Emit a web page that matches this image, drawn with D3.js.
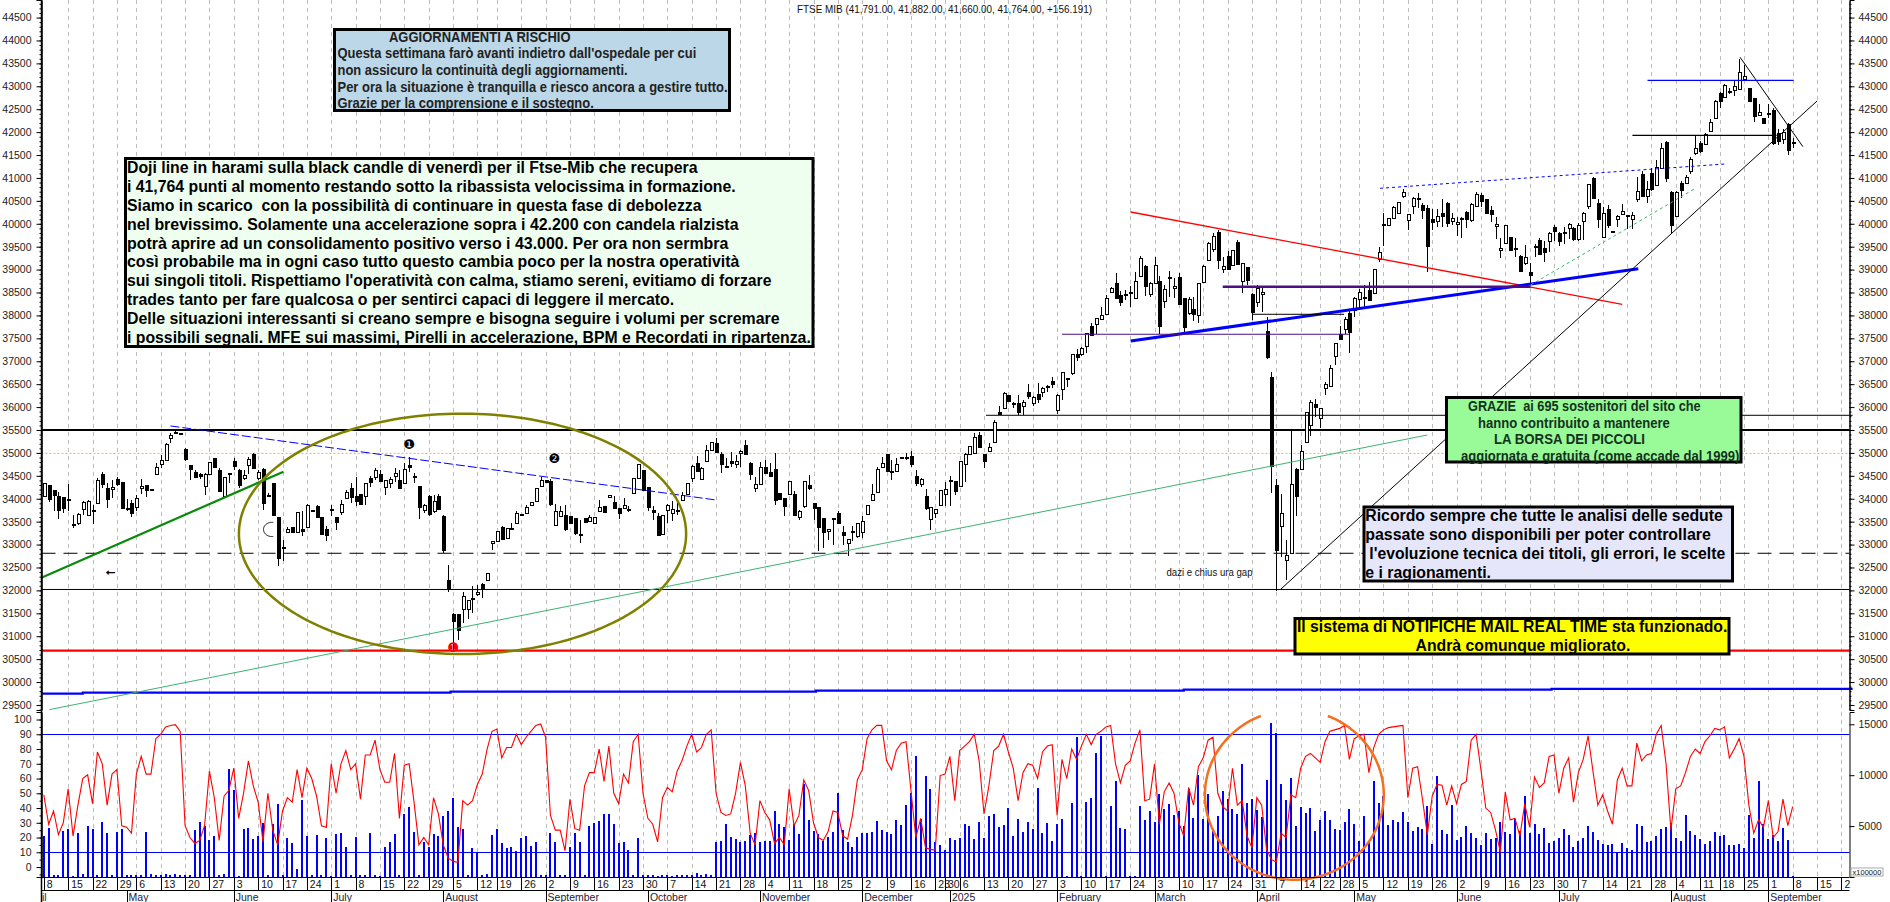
<!DOCTYPE html>
<html>
<head>
<meta charset="utf-8">
<style>
  html, body { margin: 0; padding: 0; background: #fff; overflow: hidden; }
  text { font-family: 'Liberation Sans', Arial, sans-serif; fill: #111; }
  .axis text { font-size: 10.5px; fill: #222; }
</style>
</head>
<body>
<div id="chart"></div>
<script src="https://cdn.jsdelivr.net/npm/d3@7"></script>
<script>
// candles, one line = 10 sessions, starting 8 April 2024
var opens = [
34050,34296,34195,34050,34035,33990,33441,33455,33774,33644,
33755,33905,34535,34231,34231,34427,34369,33790,33905,33818,
34231,34296,34209,34535,34753,34840,35333,35434,35427,35079,
34738,34594,34550,34282,34528,34883,34630,34050,34557,34818,
34630,34470,34724,34985,34448,34644,34064,34340,33600,32940,
33274,33382,33267,33339,33397,33752,33846,33600,33339,33775,
33607,33709,34014,34231,34064,34100,34064,34448,34470,34543,
34253,34354,34499,34412,34340,34731,34477,34282,33745,34064,
33745,34064,33629,32237,31490,31476,31585,31585,31839,31911,
32129,32223,33035,33078,33390,33143,33355,33470,33658,33687,
33861,33941,34289,34405,34390,33419,33615,33637,33615,33578,
33230,33578,33506,33470,33723,33846,34043,33919,33796,33781,
33775,34122,34449,34630,34253,33752,33615,33230,33760,33687,
33755,33977,34107,34470,34782,34449,34818,35050,35210,34978,
34717,34818,34753,34992,35173,34789,34224,34340,34695,34594,
34644,34122,34014,34107,34100,33615,33854,34289,33897,33818,
33571,33288,33565,33687,33274,33035,33289,33180,33274,33658,
33977,34144,34680,34970,34610,34593,34905,34915,34934,34499,
34340,34064,33557,33687,33854,34100,34412,34390,34282,34753,
34970,34992,35384,34978,35043,35246,35898,35971,36258,36075,
36090,36020,36332,36100,36288,36317,36465,36571,35930,36390,
36625,36739,37160,37153,37335,37771,37807,37916,38025,38505,
38709,38440,38469,38500,38374,38869,39080,38462,38702,38752,
38302,38825,38592,38840,38374,38047,38142,37996,38723,39210,
39465,39821,39007,39298,39109,39596,38745,39058,38469,38287,
38454,37661,36665,34303,33394,32652,32812,34652,34652,35226,
35597,36069,35757,36411,36447,37102,37596,37698,38061,38120,
38352,38395,38556,38498,39233,39985,39960,40134,40229,40592,
40069,40389,40571,40410,40345,40098,40069,40236,40454,40047,
39989,40115,40251,40083,40374,40629,40542,40294,39938,39436,
39589,39705,39460,39298,39138,38942,39516,39647,39473,39611,
39931,39793,39822,39902,39902,39662,40054,40374,40999,40461,
39698,40316,39836,40098,40226,40182,40100,40538,41081,40610,
41103,40850,41205,41792,40683,40175,40900,40900,41154,41538,
41756,41734,42024,42299,42843,42785,42905,42930,42945,43170,
42952,42749,42372,42300,42420,42480,41973,41857,42169,41791];

var closes = [
34340,33992,34093,33745,33796,33992,33419,33658,33919,33948,
33760,34405,34310,33992,34267,34325,33796,33796,33687,34014,
34274,34195,34188,34688,34840,35188,35398,35449,35420,34862,
34644,34485,34499,34535,34796,34680,34173,34470,34535,34702,
34303,34528,34862,34680,34579,33905,34086,33651,32708,32947,
33346,33267,33709,33303,33868,33738,33600,33230,33209,33781,
33506,33883,34144,34028,33955,33883,34340,34354,34622,34398,
34412,34434,34557,34238,34644,34680,34506,33817,33861,33673,
33955,33774,32890,32035,31331,31135,31875,31788,31810,31962,
32035,32382,33078,33296,33122,33361,33361,33687,33637,33818,
33919,34224,34412,34354,33883,33723,33730,33325,33470,33252,
33209,33491,33600,33600,33810,33723,34079,33796,33687,33854,
33780,34449,34760,34195,33818,33709,33194,33651,33861,33774,
33760,34086,34340,34724,34615,34680,35065,35231,35014,34760,
34702,34775,34825,35036,34978,34543,34318,34702,34572,34506,
33977,34000,33847,34390,33637,33738,34390,34216,33789,33375,
33267,33339,33571,33462,33201,33122,33267,33470,33513,33861,
34107,34651,34775,34593,34615,34753,34883,34920,34753,34354,
34441,33796,33810,33774,34180,34216,34390,34180,34818,34970,
35144,35340,35115,34833,35137,35681,35848,36302,36120,36080,
35900,36100,36244,36230,36186,36412,36470,36513,36266,36760,
36630,37153,37102,37284,37611,37567,37938,38004,38374,38592,
38389,38280,38440,38505,38752,39261,38651,38702,39101,37778,
38571,38832,38636,38258,37735,38353,38040,38702,39080,39574,
39741,39210,39080,39014,39429,39109,39138,38774,38084,38592,
38505,37102,34717,32885,33685,32769,34324,34063,35037,35888,
36106,36011,35975,36498,36847,37392,37494,37916,37647,38374,
38505,38400,38338,39014,39393,39989,40120,40374,40469,40687,
40207,40571,40549,40302,39517,40025,40171,40178,40025,40120,
40033,40120,40105,40425,40643,40505,40243,40214,39989,39480,
39974,39415,39466,38978,39269,38869,39487,39342,39393,39793,
39836,39611,39793,39989,39662,39967,40229,40861,40563,40113,
40229,39960,39815,40171,40284,40160,40190,40705,40610,40755,
40755,41248,41647,41009,39972,40697,40755,41031,41408,41647,
41589,41951,42220,42676,42662,43039,42908,43017,43315,43235,
42662,42350,42445,42191,42423,41749,41792,42010,41611,41764];

var highs = [
34345,34300,34200,34137,34040,34318,33651,33687,33941,33963,
33868,34448,34594,34340,34412,34470,34375,33999,33977,34071,
34427,34300,34215,34775,34956,35210,35427,35485,35435,35101,
34745,34630,34572,34557,34800,34890,34666,34475,34572,34883,
34652,34630,34905,35007,34630,34666,34122,34345,33610,33107,
33375,33390,33715,33723,33875,33758,33861,33605,33412,33868,
33610,33977,34180,34340,34470,34105,34345,34499,34666,34630,
34415,34485,34666,34630,34775,34905,34557,34285,33890,34086,
34086,34100,33635,32564,31500,31480,31962,31795,32092,32107,
32165,32385,33085,33300,33395,33365,33470,33723,33665,33868,
33925,34230,34470,34410,34427,33890,33846,33868,33620,33585,
33542,33585,33651,33605,33977,33850,34085,34050,33800,34014,
33850,34455,34765,34635,34258,33832,33687,33655,33890,33941,
33977,34137,34345,34730,34934,34685,35173,35235,35318,35028,
34883,35028,34956,35065,35282,34811,34485,34811,34847,34775,
34992,34125,34020,34395,34158,33745,34395,34521,33900,33825,
33575,33345,33580,33723,33412,33130,33397,33475,33629,33865,
34318,34702,34920,34975,34847,34883,34910,35007,35043,34630,
34445,34216,33815,33780,34185,34376,34499,34395,34825,35007,
35150,35427,35464,34985,35224,35717,36022,36332,36270,36116,
36266,36150,36506,36244,36521,36440,36484,36666,36290,36770,
36640,37160,37262,37320,37625,37829,37950,38178,38447,38629,
38920,38534,38556,38643,38956,39298,39090,38738,39283,38862,
38665,38978,38811,38934,38390,38396,38396,38710,39101,39596,
39792,39865,39283,39414,39435,39647,39145,39060,38480,38665,
38592,37960,36775,34426,34099,33089,35502,34660,35175,35902,
36157,36171,35985,36556,36920,37400,37778,37960,38120,38396,
38570,38665,38737,39020,39502,40243,40130,40380,40480,40752,
40215,40580,40665,40447,40418,40316,40316,40534,40483,40225,
40156,40140,40280,40447,40701,40665,40550,40389,40156,39684,
39980,39710,39684,39320,39538,39138,39560,39684,39630,39810,
39974,39825,39938,40010,39925,40010,40265,40870,41029,40534,
40370,40410,39840,40190,40429,40190,40248,41023,41150,40940,
41226,41386,41770,41800,40705,40720,40936,41067,41460,41930,
41800,41975,42278,42700,42880,43050,42966,43110,43605,43474,
42960,42755,42619,42305,42604,42531,42060,42060,42205,41882];

var lows = [
34045,33919,33723,33557,33687,33723,33354,33433,33651,33629,
33455,33890,34231,33796,34014,34282,33781,33723,33600,33723,
34107,34035,34185,34530,34680,34833,35210,35405,35410,34833,
34412,34448,34441,34086,34520,34675,34137,34045,34340,34630,
34231,34412,34543,34666,34412,33760,34036,33615,32527,32636,
33252,33252,33260,33180,33390,33730,33595,33225,33071,33615,
33310,33651,33992,33905,33846,33868,33868,34267,34412,34376,
34071,34231,34376,34224,34325,34594,34340,33557,33687,33615,
33687,33760,32817,31962,30700,30918,31295,31367,31512,31875,
31839,32201,32875,33070,33115,33135,33310,33455,33630,33673,
33855,33935,34285,34350,33832,33415,33600,33288,33465,33216,
33035,33485,33484,33465,33715,33720,34040,33790,33557,33775,
33700,34115,34445,34158,33723,33542,33180,33225,33470,33506,
33651,33970,34100,34376,34610,34445,34815,35045,34992,34557,
34666,34702,34680,34702,34956,34412,34137,34335,34570,34500,
33868,33995,33629,34086,33615,33528,33796,34180,33542,32853,
32926,33107,32998,33455,32998,32745,33071,33143,33143,33650,
33970,34140,34675,34590,34412,34590,34880,34847,34702,34282,
34253,33760,33310,33578,33850,33832,33832,34086,34275,34376,
34965,34985,35110,34666,35040,35210,35845,35970,36100,35971,
35826,35825,36180,36020,36090,36215,36339,36412,35840,36157,
36448,36690,37015,37124,37175,37560,37597,37902,38020,38483,
38380,38215,38338,38193,38370,38860,38433,38396,38700,37597,
38156,38396,38374,38250,37626,38011,37887,37829,38720,39196,
39392,39007,38920,39010,39101,39100,38483,38665,37902,38193,
38083,37051,34136,31976,32718,32231,32810,33627,34640,35220,
35379,35793,35539,36266,36440,36920,37490,37596,37189,37960,
38156,38192,38330,38490,39175,39516,39955,40130,40225,40556,
39865,40207,40338,40105,38942,39865,39938,39938,39938,39974,
39734,39684,39916,40047,40370,40360,40240,40047,39662,39262,
39585,39400,39269,38970,39102,38688,39269,39335,39175,39393,
39633,39516,39560,39662,39625,39630,39647,40316,40555,39902,
39690,39900,39810,39938,40220,39885,39885,40465,40600,40451,
40705,40840,41200,40922,39777,40170,40560,40880,41081,41495,
41553,41730,42015,42290,42517,42780,42836,42785,42940,43148,
42650,42227,42360,42185,42300,41720,41720,41735,41502,41660];

// oscillator, red line
var oscillator = [
49,29,38,22,30,53,21,42,60,62.5,
43,78,70,42,63,66,28,27,23,63,
75,63,63,87,90,95,96,96.5,92,28,
20,16,18,28,65,47,18,48,52,67,
33,50,72,55,44,17,50,25,15,38,
47,44,66,47,67,60,48,28,27,70,
50,70,79,66,70,46,76,76,86,66,
57.5,57.5,77,33,69,70,44,15,20,15,
47,36,15,6,4,3,45,42,45,56,
63,80,92,93.5,74,81,81,90,83,88,
92,96,97,88,35,25,25,11,46,26,
25,55,64,64,80,58,82,50,43,63,
57,85,90,50,33,29,17,47,54,51,
65,72,82,90,78,81,90,93,50,37,
35,36,50,71,55,23,15,45,37,32,
16,20,15,53,28,35,59,52,30,20,
18,24,38,37,21,19,35,59,66,87,
93,96,96,72,66,79,84,85,52,20,
33,13,12,11.5,62,63,75,45,79,82,
85,90,72,36,55,79,82,90,78,67,
45,64,70,69,60,78,82,83,35,73,
60,80,73,82,90,83,90,92,95,96,
70,57,69,72,84,93,45,46,70,29,
51,57,50,30,21,54,42,68,74,86,
88,50,41,38,67,42,45,21,13,47,
42,12,5,3.5,23,20,49,47,67,75,
77,74,71,85,92,93,94,96,73,87,
89,90,64,81,90,93,94.5,95,95.5,96,
47,67,68,46,22,48,56,55.5,42,55,
43,56,58,86,90,66,40,37,25,10,
51,32,33,21,43,27,61,54,57,75,
76,50,67,74,44,64,73,89,65,42,
49,38,29,59,67,55,55,84,72,76,
77,90,96,70,25,53,55,64,75,80,
77,85,89,94,93,95,74,80,87,75,
42,23,32,27,45,20,24,46,28,41];

// volume, blue bars
var volumes = [
4060,4850,165,165,4490,4720,130,4320,300,5050,
4720,200,5445,4320,165,4420,4720,165,165,165,
165,4420,260,200,165,260,200,260,200,165,
165,4620,5410,4980,3600,4030,165,300,10590,8510,
130,4750,4850,3730,4060,5280,165,5210,7190,165,
3860,3330,800,7520,3990,200,4160,165,3860,130,
4260,4320,2970,165,3890,165,200,4320,165,130,
2970,3430,4220,165,6200,6830,4420,165,3430,2970,
4260,4060,6000,6530,7790,4920,4720,165,2840,2480,
165,300,4090,4750,3330,2870,2970,2570,3860,3990,
3070,3465,165,165,4360,3465,165,165,2970,4360,
3465,165,5050,5310,5510,6140,6140,5250,3300,3465,
2670,165,3860,200,200,165,130,165,165,130,
165,165,165,165,400,230,300,200,3465,3560,
5250,3960,3730,3465,3560,4090,4360,3400,3560,3560,
6435,5210,4950,3630,5180,4220,9100,5640,4550,4220,
3500,3960,4390,8300,4620,3465,2970,3960,4360,4360,
4420,5510,4620,4420,4260,5610,5150,7030,8220,11880,
5710,9900,8680,3465,3135,2670,3830,3630,3860,5210,
5050,3760,5445,3830,6000,6140,4950,5115,6800,4060,
5710,4420,5410,4750,8710,4320,5350,3560,5250,5740,
100,7290,13800,100,7360,7790,12140,13860,100,7000,
9400,4850,4750,100,100,7000,5610,6500,5410,8180,
6700,7130,6070,6435,5050,8680,5800,10060,5740,8180,
4520,6000,8400,7690,6700,6140,11055,7230,7620,6630,
5870,9500,15150,14120,9100,7560,9770,4980,6900,6300,
6730,4550,5640,6470,5640,4750,4590,5410,6700,5210,
3530,5970,3500,9400,7230,7950,5150,5640,5445,6400,
5410,4520,4920,4750,7000,3270,9970,4620,4220,7060,
3660,3960,5020,4360,3830,3135,4320,3730,3860,5445,
4455,4220,5710,4550,7920,4360,5180,4220,4820,3330,
3500,3830,4750,4125,2940,3560,3860,5050,4420,3630,
3270,3135,3230,2440,3330,2870,2670,5250,5050,3465,
3560,4060,4750,4950,5350,3860,3560,6100,4520,4125,
3730,3230,3500,4455,4060,4160,3100,3100,3230,2840,
6070,3860,9400,5250,3760,4125,3560,4850,3660,100];

// tick labels, weekly row and monthly row (session number of each tick)
var weekIndex = [0,5,10,15,19,24,29,34,39,44,49,54,59,64,69,74,79,84,89,93,98,103,108,113,118,123,128,133,138,143,148,153,158,163,168,173,178,183,185,188,193,198,203,208,213,218,223,228,233,238,243,248,253,258,262,266,270,275,280,285,290,295,300,305,310,315,320,325,330,335,340,344,349,354,359,364,369];
var weekLabels = ['8','15','22','29','6','13','20','27','3','10','17','24','1','8','15','22','29','5','12','19','26','2','9','16','23','30','7','14','21','28','4','11','18','25','2','9','16','23','30','6','13','20','27','3','10','17','24','3','10','17','24','31','7','14','22','28','5','12','19','26','2','9','16','23','30','7','14','21','28','4','11','18','25','1','8','15','2'];
var monthIndex = [17,39,59,82,103,124,147,168,186,208,228,249,269,290,311,334,354];
var monthLabels = ['May','June','July','August','September','October','November','December','2025','February','March','April','May','June','July','August','September'];

var priceTicks = d3.range(29500, 45000, 500);
var oscTicks = d3.range(0, 101, 10);
var volumeTicks = [5000, 10000, 15000];

// drawn lines: [session, price] ends
var trendLines = [
  {p: [[-0.5, 32278], [49.2, 34591]], c: '#0a8a0a', w: 2.2},
  {p: [[26, 35588], [138, 33973]], c: '#0000ff', w: 1, d: '9,3'},
  {p: [[1.1, 29397], [284, 35391]], c: '#3cb371', w: 1},
  {p: [[223.1, 40257], [324, 38243]], c: '#ff0000', w: 1.3},
  {p: [[223.1, 37442], [327.3, 39020]], c: '#0000ff', w: 3},
  {p: [[242, 38627], [305.2, 38627]], c: '#4b0f82', w: 2.5},
  {p: [[209, 37589], [268, 37589]], c: '#4b0f82', w: 1},
  {p: [[248.2, 38025], [266.9, 38025]], c: '#000', w: 1},
  {p: [[193.4, 35821], [371.3, 35821]], c: '#000', w: 1},
  {p: [[253.85, 32020], [364, 42679]], c: '#000', w: 1},
  {p: [[348.2, 43633], [361.1, 41682]], c: '#000', w: 1},
  {p: [[329.2, 43131], [359.2, 43131]], c: '#0000ff', w: 1.2},
  {p: [[326.1, 41931], [355.7, 41931]], c: '#000', w: 1.2},
  {p: [[274.3, 40774], [345.2, 41305]], c: '#0000ff', w: 1, d: '3,3'},
  {p: [[305.2, 38664], [338.8, 40759]], c: '#3cb371', w: 1, d: '3,3'}
];

// slow blue average, steps
var stepSessions = [-0.5, 8, 83.5, 158.5, 234, 309.5, 371.3];
var stepPrices = [29747, 29768, 29790, 29812, 29834, 29849];

// full width levels
var levels = [
  {v: 35500, c: '#000', w: 2.2},
  {v: 34990, c: '#f4a460', w: 1, d: '2,2'},
  {v: 32810, c: '#000', w: 1, d: '14,8'},
  {v: 32020, c: '#000', w: 1},
  {v: 30685, c: '#ff0000', w: 2.2}
];

// text boxes, real text with the width it takes in the picture
var boxes = [
  {x0: 334.5, x1: 729.5, y0: 29.5, y1: 110.5, fill: '#bcd8e8', size: 14.5, weight: 'bold', color: '#222', lines: [
    ['AGGIORNAMENTI A RISCHIO', 389, 570.5, 37.3],
    ['Questa settimana farò avanti indietro dall\'ospedale per cui', 337.5, 696.3, 53.3],
    ['non assicuro la continuità degli aggiornamenti.', 337.5, 627.6, 69.7],
    ['Per ora la situazione è tranquilla e riesco ancora a gestire tutto.', 337.5, 727.6, 86.7],
    ['Grazie per la comprensione e il sostegno.', 337.5, 593.8, 102.7]]},
  {x0: 125.5, x1: 813, y0: 158.5, y1: 346.5, fill: '#efffef', size: 16, weight: 'bold', color: '#000', lines: [
    ['Doji line in harami sulla black candle di venerdì per il Ftse-Mib che recupera', 127, 697.5, 167.7],
    ['i 41,764 punti al momento restando sotto la ribassista velocissima in formazione.', 127, 735.7, 186.5],
    ['Siamo in scarico  con la possibilità di continuare in questa fase di debolezza', 127, 701.5, 205.5],
    ['nel brevissimo. Solamente una accelerazione sopra i 42.200 con candela rialzista', 127, 738.5, 224.5],
    ['potrà aprire ad un consolidamento positivo verso i 43.000. Per ora non sermbra', 127, 728.4, 243.5],
    ['così probabile ma in ogni caso tutto questo cambia poco per la nostra operatività', 127, 739.3, 261.5],
    ['sui singoli titoli. Rispettiamo l\'operatività con calma, stiamo sereni, evitiamo di forzare', 127, 771.4, 280.5],
    ['trades tanto per fare qualcosa o per sentirci capaci di leggere il mercato.', 127, 674.2, 299.5],
    ['Delle situazioni interessanti si creano sempre e bisogna seguire i volumi per scremare', 127, 779.5, 318.5],
    ['i possibili segnali. MFE sui massimi, Pirelli in accelerazione, BPM e Recordati in ripartenza.', 127, 810.8, 337.5]]},
  {x0: 1446.5, x1: 1741, y0: 397.5, y1: 462, fill: '#98fb98', size: 15, weight: 'bold', color: '#14321e', lines: [
    ['GRAZIE  ai 695 sostenitori del sito che', 1468, 1700.7, 405.7],
    ['hanno contribuito a mantenere', 1478, 1669.8, 422.3],
    ['LA BORSA DEI PICCOLI', 1494, 1645, 438.3],
    ['aggiornata e gratuita (come accade dal 1999)', 1461, 1739.3, 455.3]]},
  {x0: 1364, x1: 1732.5, y0: 507, y1: 581, fill: '#e6e6fa', size: 16, weight: 'bold', color: '#000', lines: [
    ['Ricordo sempre che tutte le analisi delle sedute', 1365.3, 1722.8, 515.7],
    ['passate sono disponibili per poter controllare', 1365.3, 1710.8, 534.7],
    ['l\'evoluzione tecnica dei titoli, gli errori, le scelte', 1369.3, 1725.2, 553.3],
    ['e i ragionamenti.', 1365.3, 1491, 572.7]]},
  {x0: 1295, x1: 1729, y0: 618.5, y1: 654, fill: '#ffff00', size: 16, weight: 'bold', color: '#000', lines: [
    ['Il sistema di NOTIFICHE MAIL REAL TIME sta funzionado.', 1297, 1727.3, 626.3],
    ['Andrà comunque migliorato.', 1415.5, 1630.4, 645.7]]}
];

// svg container
var chart_width = 1890;
var chart_height = 902;
var left_edge = 41.5;
var right_edge = 1849.5;
var panel_split = 711;
var panel_bottom = 877;
var week_row = 890;

var svg = d3.select('#chart')
  .append('svg')
  .attr('width', chart_width)
  .attr('height', chart_height)
  .style('display', 'block');

// scales
var x_scale = d3.scaleLinear().domain([0, 359]).range([43.8, 1792.7]);
var y_scale = d3.scaleLinear().domain([29390, 44883]).range([710, 0]);
var osc_scale = d3.scaleLinear().domain([-6.75, 105.1]).range([panel_bottom, 712]);
var vol_scale = d3.scaleLinear().domain([0, 16208]).range([panel_bottom, 712]);

var px = function(v) { return Math.round(v) + 0.5; };

// weekly grid
svg.append('g').selectAll('line')
  .data(weekIndex.slice(1))
  .enter()
  .append('line')
  .attr('x1', (d) => px(x_scale(d)))
  .attr('x2', (d) => px(x_scale(d)))
  .attr('y1', 0)
  .attr('y2', panel_bottom)
  .attr('stroke', '#bdbdbd')
  .attr('stroke-dasharray', '4,4');

// volume bars
svg.append('g').selectAll('rect')
  .data(volumes)
  .enter()
  .append('rect')
  .attr('x', (d, i) => Math.round(x_scale(i)) - 1)
  .attr('y', (d) => vol_scale(d))
  .attr('width', 2)
  .attr('height', (d) => panel_bottom - vol_scale(d))
  .attr('fill', '#0000ff')
  .attr('shape-rendering', 'crispEdges');

// oscillator bounds and line
svg.append('g').selectAll('line')
  .data([90, 10])
  .enter()
  .append('line')
  .attr('x1', left_edge)
  .attr('x2', right_edge)
  .attr('y1', (d) => px(osc_scale(d)))
  .attr('y2', (d) => px(osc_scale(d)))
  .attr('stroke', '#0000ff')
  .attr('stroke-width', 1);

svg.append('path')
  .datum(oscillator)
  .attr('fill', 'none')
  .attr('stroke', '#ff0000')
  .attr('stroke-width', 1.1)
  .attr('d', d3.line().x((d, i) => x_scale(i)).y((d) => osc_scale(d)));

// levels across the price panel
svg.append('g').selectAll('line')
  .data(levels)
  .enter()
  .append('line')
  .attr('x1', left_edge)
  .attr('x2', right_edge)
  .attr('y1', (d) => y_scale(d.v))
  .attr('y2', (d) => y_scale(d.v))
  .attr('stroke', (d) => d.c)
  .attr('stroke-width', (d) => d.w)
  .attr('stroke-dasharray', (d) => d.d || null);

// blue step line
var step_line = [];
stepPrices.forEach(function(p, i) {
  step_line.push([stepSessions[i], p]);
  step_line.push([stepSessions[i + 1], p]);
});
svg.append('path')
  .datum(step_line)
  .attr('fill', 'none')
  .attr('stroke', '#0000ff')
  .attr('stroke-width', 2.2)
  .attr('d', d3.line().x((d) => x_scale(d[0])).y((d) => y_scale(d[1])));

// candles
var candles = svg.append('g').selectAll('g')
  .data(opens.map((o, i) => ({i: i, o: o, h: highs[i], l: lows[i], c: closes[i]})))
  .enter()
  .append('g')
  .attr('shape-rendering', 'crispEdges');

candles.append('line')
  .attr('x1', (d) => px(x_scale(d.i)))
  .attr('x2', (d) => px(x_scale(d.i)))
  .attr('y1', (d) => y_scale(d.h))
  .attr('y2', (d) => y_scale(d.l))
  .attr('stroke', '#000');

candles.append('rect')
  .attr('x', (d) => Math.round(x_scale(d.i)) - 1)
  .attr('y', (d) => Math.round(y_scale(Math.max(d.o, d.c))) + 0.5)
  .attr('width', 3)
  .attr('height', (d) => Math.max(1, Math.round(Math.abs(y_scale(d.o) - y_scale(d.c)))))
  .attr('fill', (d) => d.c >= d.o ? '#fff' : '#000')
  .attr('stroke', '#000');

// trend lines on top of the candles
svg.append('g').selectAll('line')
  .data(trendLines)
  .enter()
  .append('line')
  .attr('x1', (d) => x_scale(d.p[0][0]))
  .attr('y1', (d) => y_scale(d.p[0][1]))
  .attr('x2', (d) => x_scale(d.p[1][0]))
  .attr('y2', (d) => y_scale(d.p[1][1]))
  .attr('stroke', (d) => d.c)
  .attr('stroke-width', (d) => d.w)
  .attr('stroke-dasharray', (d) => d.d || null);

// hand drawn ellipses, turning clockwise from the top
function ellipse_path(xs, ys, cx, cy, rx, ry, from, to) {
  var turn = d3.range(from, to + 1, 2).map((a) => a * Math.PI / 180);
  return d3.line()
    .x((t) => xs(cx + rx * Math.sin(t)))
    .y((t) => ys(cy + ry * Math.cos(t)))(turn);
}

svg.append('path')
  .attr('d', ellipse_path(x_scale, y_scale, 85.95, 33234, 45.9, 2622, 0, 360))
  .attr('fill', 'none')
  .attr('stroke', '#808000')
  .attr('stroke-width', 2.5);

svg.append('path')
  .attr('d', ellipse_path(x_scale, osc_scale, 256.7, 49, 18.36, 57.6, 22, 339))
  .attr('fill', 'none')
  .attr('stroke', '#f37021')
  .attr('stroke-width', 2.5);

svg.append('path')
  .attr('d', ellipse_path(x_scale, y_scale, 46.8, 33330, 1.7, 155, 170, 370))
  .attr('fill', 'none')
  .attr('stroke', '#000')
  .attr('stroke-width', 1);

// numbered marks and notes
var marks = [
  {t: '\u2776', i: 75.0, v: 35173, c: '#000'},
  {t: '\u2777', i: 104.8, v: 34868, c: '#000'},
  {t: '\u2776', i: 84.0, v: 30759, c: '#ff0000'}
];
svg.append('g').selectAll('text')
  .data(marks)
  .enter()
  .append('text')
  .attr('x', (d) => x_scale(d.i))
  .attr('y', (d) => y_scale(d.v))
  .attr('text-anchor', 'middle')
  .attr('dominant-baseline', 'central')
  .style('font-family', "'DejaVu Sans'")
  .style('font-size', '13px')
  .style('fill', (d) => d.c)
  .text((d) => d.t);

svg.append('text')
  .attr('x', x_scale(13.7))
  .attr('y', y_scale(32440))
  .attr('text-anchor', 'middle')
  .attr('dominant-baseline', 'central')
  .attr('stroke', '#000')
  .attr('stroke-width', 0.6)
  .style('font-size', '14px')
  .style('font-weight', 'bold')
  .text('\u2190');

svg.append('text')
  .attr('x', 1166.5)
  .attr('y', y_scale(32410))
  .attr('dominant-baseline', 'central')
  .attr('textLength', 86)
  .attr('lengthAdjust', 'spacingAndGlyphs')
  .style('font-size', '10.5px')
  .text('dazi e chius ura gap');

// title
svg.append('text')
  .attr('x', 797)
  .attr('y', 9)
  .attr('dominant-baseline', 'central')
  .attr('textLength', 295)
  .attr('lengthAdjust', 'spacingAndGlyphs')
  .style('font-size', '11px')
  .text('FTSE MIB (41,791.00, 41,882.00, 41,660.00, 41,764.00, +156.191)');

// text boxes
boxes.forEach(function(b) {
  svg.append('rect')
    .attr('x', b.x0)
    .attr('y', b.y0)
    .attr('width', b.x1 - b.x0)
    .attr('height', b.y1 - b.y0)
    .attr('fill', b.fill)
    .attr('stroke', '#000')
    .attr('stroke-width', 3);
  b.lines.forEach(function(l) {
    svg.append('text')
      .attr('x', l[1])
      .attr('y', l[3])
      .attr('dominant-baseline', 'central')
      .attr('textLength', l[2] - l[1])
      .attr('lengthAdjust', 'spacingAndGlyphs')
      .style('font-size', b.size + 'px')
      .style('font-weight', b.weight)
      .style('fill', b.color)
      .style('white-space', 'pre')
      .text(l[0]);
  });
});

// axes, price panel
function add_axis(maker, at, scale, values, size, padding, labelled) {
  var axis = maker(scale).tickValues(values).tickSize(size).tickPadding(padding);
  if (!labelled) axis.tickFormat('');
  else axis.tickFormat(d3.format('d'));
  var g = svg.append('g').attr('class', 'axis').attr('transform', 'translate(' + at + ',0)').call(axis);
  g.selectAll('line').attr('stroke', '#000');
  g.selectAll('path').attr('stroke', '#000');
  return g;
}

var minor_price = d3.range(29400, 44900, 100);
var minor_osc = d3.range(-5, 106, 5);
add_axis(d3.axisLeft, left_edge, y_scale, minor_price, 2, 3, false);
add_axis(d3.axisLeft, left_edge, y_scale, priceTicks, 5, 5, true);
add_axis(d3.axisRight, right_edge, y_scale, minor_price, 2, 3, false);
add_axis(d3.axisRight, right_edge, y_scale, priceTicks, 5, 4, true);
add_axis(d3.axisLeft, left_edge, osc_scale, minor_osc, 2, 3, false);
add_axis(d3.axisLeft, left_edge, osc_scale, oscTicks, 5, 5, true);
add_axis(d3.axisRight, right_edge, vol_scale, volumeTicks, 5, 4, true);

// x100000 tag
svg.append('rect')
  .attr('x', 1851)
  .attr('y', 868)
  .attr('width', 32)
  .attr('height', 8)
  .attr('fill', '#fff')
  .attr('stroke', '#aaa');
svg.append('text')
  .attr('x', 1867)
  .attr('y', 872)
  .attr('text-anchor', 'middle')
  .attr('dominant-baseline', 'central')
  .style('font-size', '7.5px')
  .text('x100000');

// bottom rows, week and month ticks
svg.append('line').attr('x1', left_edge).attr('x2', right_edge)
  .attr('y1', panel_bottom + 0.5).attr('y2', panel_bottom + 0.5).attr('stroke', '#000');
svg.append('line').attr('x1', left_edge).attr('x2', right_edge)
  .attr('y1', week_row + 0.5).attr('y2', week_row + 0.5).attr('stroke', '#000');

svg.append('g').selectAll('line')
  .data(weekIndex)
  .enter()
  .append('line')
  .attr('x1', (d) => px(x_scale(d)))
  .attr('x2', (d) => px(x_scale(d)))
  .attr('y1', panel_bottom)
  .attr('y2', week_row)
  .attr('stroke', '#000');

svg.append('g').selectAll('text')
  .data(weekLabels)
  .enter()
  .append('text')
  .attr('x', (d, i) => x_scale(weekIndex[i]) + 3)
  .attr('y', 884)
  .attr('dominant-baseline', 'central')
  .style('font-size', '10.5px')
  .text((d) => d);

svg.append('g').selectAll('line')
  .data(monthIndex)
  .enter()
  .append('line')
  .attr('x1', (d) => px(x_scale(d)))
  .attr('x2', (d) => px(x_scale(d)))
  .attr('y1', week_row)
  .attr('y2', chart_height)
  .attr('stroke', '#000');

svg.append('g').selectAll('text')
  .data(monthLabels)
  .enter()
  .append('text')
  .attr('x', (d, i) => x_scale(monthIndex[i]) + 2)
  .attr('y', 897)
  .attr('dominant-baseline', 'central')
  .style('font-size', '10.5px')
  .style('fill', '#223')
  .text((d) => d);

svg.append('text')
  .attr('x', 42)
  .attr('y', 897)
  .attr('dominant-baseline', 'central')
  .style('font-size', '10.5px')
  .style('fill', '#223')
  .text('il');

svg.append('line').attr('x1', left_edge).attr('x2', left_edge)
  .attr('y1', 0).attr('y2', chart_height).attr('stroke', '#000').attr('stroke-width', 1.5);
</script>
</body>
</html>
